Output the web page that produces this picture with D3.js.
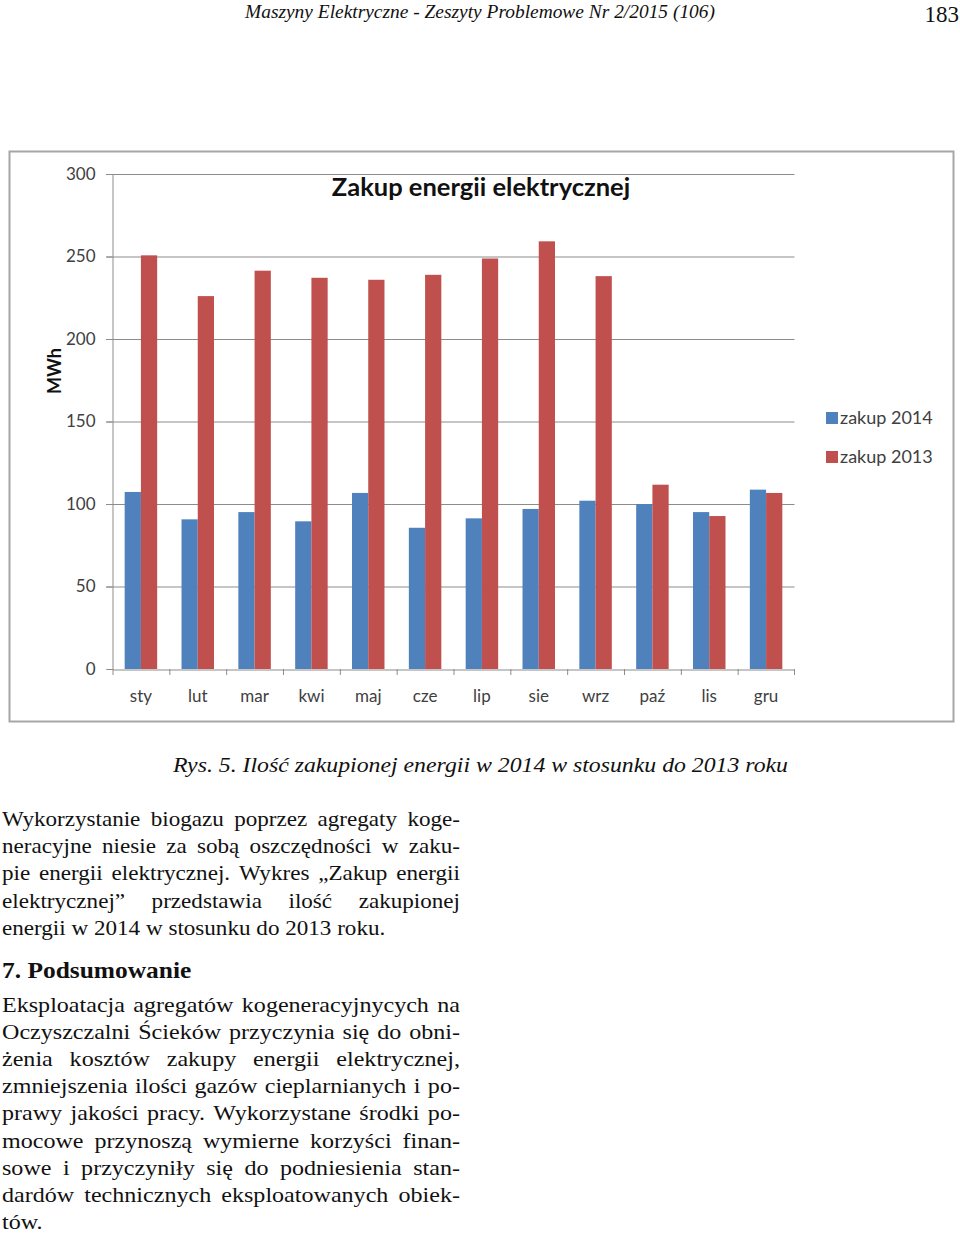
<!DOCTYPE html>
<html><head><meta charset="utf-8">
<script src="https://cdn.jsdelivr.net/npm/d3@7"></script>
<style>body{margin:0;background:#fff}svg{display:block}</style>
</head><body><svg id="c" width="960" height="1233"></svg>
<script>
// ---- data ----
const months = ["sty","lut","mar","kwi","maj","cze","lip","sie","wrz","paź","lis","gru"];
const zakup2014 = [107.3,90.7,95.1,89.5,106.7,85.6,91.3,97.0,102.0,100.0,95.1,108.7];
const zakup2013 = [250.7,226.0,241.4,237.1,235.9,238.9,248.8,259.2,238.1,111.7,92.7,106.7];
const seriesNames = ["zakup 2014","zakup 2013"];
const seriesColors = ["#4F81BD","#C0504D"];
const yTicks = [0,50,100,150,200,250,300];
const chartTitle = "Zakup energii elektrycznej";
const yLabel = "MWh";

const headerText = "Maszyny Elektryczne - Zeszyty Problemowe Nr 2/2015 (106)";
const pageNo = "183";
const caption = "Rys. 5. Ilość zakupionej energii w 2014 w stosunku do 2013 roku";
const para1 = [
  "Wykorzystanie biogazu poprzez agregaty koge-",
  "neracyjne niesie za sobą oszczędności w zaku-",
  "pie energii elektrycznej. Wykres „Zakup energii",
  "elektrycznej”  przedstawia  ilość zakupionej",
  "energii w 2014 w stosunku do 2013 roku."
];
const heading = "7. Podsumowanie";
const para2 = [
  "Eksploatacja agregatów kogeneracyjnycych na",
  "Oczyszczalni Ścieków przyczynia się do obni-",
  "żenia kosztów zakupy energii elektrycznej,",
  "zmniejszenia ilości gazów cieplarnianych i po-",
  "prawy jakości pracy. Wykorzystane środki po-",
  "mocowe przynoszą wymierne korzyści finan-",
  "sowe i przyczyniły się do podniesienia stan-",
  "dardów technicznych eksploatowanych obiek-",
  "tów."
];

const rows = months.map((m,i)=>({m, v:[zakup2014[i], zakup2013[i]]}));

const svg = d3.select("#c");
const CF = "Lato, 'Open Sans', sans-serif";
const SF = "'Liberation Serif', 'Times New Roman', serif";

// ---- chart frame ----
svg.append("rect").attr("x",9.5).attr("y",151.5).attr("width",944).attr("height",570)
  .attr("fill","#fff").attr("stroke","#a6a6a6").attr("stroke-width",2);

const x = d3.scaleBand().domain(months).range([112.5,794.5]).padding(0);
const xs = d3.scaleBand().domain([0,1]).range([0,x.bandwidth()]).paddingInner(0).paddingOuter(0.75);
const y = d3.scaleLinear().domain([0,300]).range([669,174]);

// gridlines
svg.append("g").selectAll("line").data(yTicks.filter(t=>t>0)).join("line")
  .attr("x1",106).attr("x2",794.5).attr("y1",d=>y(d)+0.5).attr("y2",d=>y(d)+0.5)
  .attr("stroke","#8c8c8c").attr("stroke-width",1);

// y axis
const ya = svg.append("g").attr("transform","translate(112.5,0)")
  .call(d3.axisLeft(y).tickValues(yTicks).tickSize(6).tickPadding(11).tickFormat(d3.format("d")));
ya.select(".domain").attr("stroke","#8c8c8c");
ya.selectAll(".tick line").attr("stroke","#8c8c8c");
ya.selectAll("text").attr("font-family",CF).attr("font-size",17).attr("fill","#404040");

// bars
const grp = svg.append("g").selectAll("g").data(rows).join("g")
  .attr("transform",d=>`translate(${x(d.m)},0)`);
grp.selectAll("rect").data(d=>d.v.map((v,k)=>({v,k}))).join("rect")
  .attr("x",d=>xs(d.k)).attr("width",xs.bandwidth())
  .attr("y",d=>y(d.v)).attr("height",d=>y(0)-y(d.v))
  .attr("fill",d=>seriesColors[d.k]);

// x axis
const xa = svg.append("g").attr("transform","translate(0,669.5)")
  .call(d3.axisBottom(x).tickSize(0).tickPadding(20));
xa.select(".domain").attr("stroke","#8c8c8c");
xa.selectAll("text").attr("font-family",CF).attr("font-size",17).attr("fill","#404040");
// category boundary ticks
svg.append("g").selectAll("line").data(months.concat(["__end"])).join("line")
  .attr("x1",(d,i)=> i<months.length ? x(d)+0.5 : 794.5)
  .attr("x2",(d,i)=> i<months.length ? x(d)+0.5 : 794.5)
  .attr("y1",669).attr("y2",675).attr("stroke","#8c8c8c");

// title
svg.append("text").attr("x",481).attr("y",196).attr("text-anchor","middle")
  .attr("font-family",CF).attr("font-weight","bold").attr("font-size",25.5).attr("fill","#111")
  .text(chartTitle);
// y label
svg.append("text").attr("transform","translate(61,371) rotate(-90)").attr("text-anchor","middle")
  .attr("font-family",CF).attr("font-weight","bold").attr("font-size",18).attr("fill","#111")
  .text(yLabel);

// legend
const lg = svg.append("g").selectAll("g").data(seriesNames).join("g")
  .attr("transform",(d,i)=>`translate(826,${412+i*39})`);
lg.append("rect").attr("width",12).attr("height",12).attr("fill",(d,i)=>seriesColors[i]);
lg.append("text").attr("x",14).attr("y",12).attr("font-family",CF).attr("font-size",18)
  .attr("fill","#404040").text(d=>d);

// ---- page text ----
svg.append("text").attr("x",245).attr("y",18).attr("font-family",SF).attr("font-style","italic")
  .attr("font-size",18).attr("textLength",470).attr("lengthAdjust","spacingAndGlyphs").attr("fill","#111")
  .text(headerText);
svg.append("text").attr("x",959).attr("y",22).attr("text-anchor","end").attr("font-family",SF)
  .attr("font-size",23).attr("fill","#111").text(pageNo);
svg.append("text").attr("x",173).attr("y",772).attr("font-family",SF).attr("font-style","italic")
  .attr("font-size",21).attr("textLength",615).attr("lengthAdjust","spacingAndGlyphs").attr("fill","#111")
  .text(caption);
svg.append("g").attr("transform","translate(2,978) scale(1.06,1)")
  .append("text").attr("font-family",SF).attr("font-weight","bold")
  .attr("font-size",24).attr("fill","#111").text(heading);

const meas = svg.append("text").attr("font-family",SF).attr("visibility","hidden");
function wordW(w, fs){ meas.attr("font-size",fs).text(w); return meas.node().getComputedTextLength(); }

function drawLines(lines, y0, lh, fs, hs, x0, width, lastFree){
  const tw = width/hs;
  lines.forEach((line,li)=>{
    const words = line.split(/\s+/);
    const ws = words.map(w=>wordW(w,fs));
    const W = d3.sum(ws);
    const n = words.length-1;
    const g = svg.append("g").attr("transform",`translate(${x0},${y0+li*lh})`);
    const justify = !(lastFree && li===lines.length-1);
    let gap = fs*0.25, s = hs;
    if(justify){
      gap = (tw - W)/n;
      if(gap < fs*0.2){ gap = fs*0.2; s = width/(W+n*gap); }
    } else {
      if((W+n*gap)*hs > width){ s = width/(W+n*gap); }
    }
    const t = g.append("text").attr("font-family",SF).attr("font-size",fs).attr("fill","#111")
      .attr("transform",`scale(${s},1)`);
    let cx = 0;
    words.forEach((w,k)=>{ t.append("tspan").attr("x",cx).attr("y",0).text(w); cx += ws[k]+gap; });
  });
}
drawLines(para1, 826, 27.2, 21, 1.1, 2, 458, true);
drawLines(para2, 1012, 27.1, 21.5, 1.12, 2, 458, true);
meas.remove();
</script></body></html>
